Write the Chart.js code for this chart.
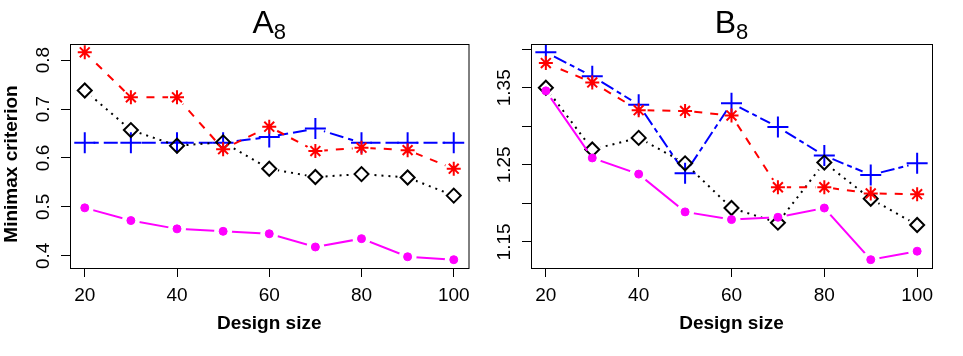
<!DOCTYPE html>
<html>
<head>
<meta charset="utf-8">
<script src="https://cdn.jsdelivr.net/npm/chart.js@4.4.1/dist/chart.umd.min.js"></script>
<style>
  html, body { margin: 0; padding: 0; background: #fff; }
  #wrap { position: relative; width: 963px; height: 356px; overflow: hidden; }
  canvas { position: absolute; top: 0; }
</style>
</head>
<body>
<div id="wrap">
  <canvas id="chartA" width="481" height="356" style="left:0"></canvas>
  <canvas id="chartB" width="482" height="356" style="left:481px"></canvas>
</div>
<script>
const designSize = [20, 30, 40, 50, 60, 70, 80, 90, 100];
const xTicks = [20, 40, 60, 80, 100];

// A8 panel
const a8Plus    = [0.631, 0.631, 0.631, 0.631, 0.643, 0.660, 0.631, 0.631, 0.631];
const a8Diamond = [0.738, 0.657, 0.625, 0.632, 0.578, 0.561, 0.567, 0.560, 0.523];
const a8Star    = [0.816, 0.724, 0.724, 0.618, 0.664, 0.614, 0.621, 0.616, 0.578];
const a8Dot     = [0.498, 0.472, 0.455, 0.450, 0.445, 0.418, 0.435, 0.398, 0.392];
const a8YTicks  = [0.4, 0.5, 0.6, 0.7, 0.8];
const a8YLabels = ['0.4', '0.5', '0.6', '0.7', '0.8'];

// B8 panel
const b8Plus    = [1.396, 1.365, 1.328, 1.239, 1.330, 1.299, 1.262, 1.237, 1.252];
const b8Diamond = [1.350, 1.270, 1.285, 1.252, 1.194, 1.175, 1.253, 1.206, 1.172];
const b8Star    = [1.382, 1.357, 1.321, 1.320, 1.314, 1.221, 1.221, 1.213, 1.212];
const b8Dot     = [1.346, 1.259, 1.238, 1.189, 1.179, 1.182, 1.194, 1.127, 1.138];
const b8YTicks  = [1.15, 1.20, 1.25, 1.30, 1.35, 1.40];
const b8YLabels = ['1.15', '', '1.25', '', '1.35', ''];

Chart.defaults.font.family = '"Liberation Sans", Arial, sans-serif';
Chart.defaults.color = '#000';

// leave a gap round each point like R's type = "b"
const gapPlugin = {
  id: 'gaps',
  beforeDatasetDraw(chart, args) {
    const ds = chart.data.datasets[args.index];
    if (!ds.gap) return;
    const ctx = chart.ctx;
    const xs = chart.scales.x, ys = chart.scales.y;
    ctx.save();
    ctx.beginPath();
    ctx.rect(0, 0, chart.width, chart.height);
    ds.data.forEach(p => {
      const px = xs.getPixelForValue(p.x), py = ys.getPixelForValue(p.y);
      ctx.moveTo(px + ds.gap, py);
      ctx.arc(px, py, ds.gap, 0, Math.PI * 2);
    });
    ctx.clip('evenodd');
  },
  afterDatasetDraw(chart, args) {
    if (chart.data.datasets[args.index].gap) chart.ctx.restore();
  }
};

// box, rotated y labels and titles
const framePlugin = {
  id: 'frame',
  afterDraw(chart, args, opts) {
    const ctx = chart.ctx, a = chart.chartArea;
    ctx.save();
    ctx.strokeStyle = '#000';
    ctx.lineWidth = 1;
    ctx.strokeRect(a.left + 0.5, a.top + 0.5, a.right - a.left, a.bottom - a.top);

    ctx.fillStyle = '#000';
    ctx.font = '19px "Liberation Sans"';
    ctx.textAlign = 'center';
    ctx.textBaseline = 'alphabetic';
    const ys = chart.scales.y;
    opts.yTicks.forEach((v, i) => {
      const lab = opts.yLabels[i];
      if (!lab) return;
      ctx.save();
      ctx.translate(opts.labelX, ys.getPixelForValue(v));
      ctx.rotate(-Math.PI / 2);
      ctx.fillText(lab, 0, 0);
      ctx.restore();
    });

    if (opts.yTitle) {
      ctx.save();
      ctx.font = 'bold 19px "Liberation Sans"';
      ctx.translate(17, 164);
      ctx.rotate(-Math.PI / 2);
      ctx.fillText(opts.yTitle, 0, 0);
      ctx.restore();
    }

    // main title with subscript
    const cx = (a.left + a.right) / 2;
    ctx.font = '32px "Liberation Sans"';
    const w1 = ctx.measureText(opts.title).width;
    ctx.font = '22px "Liberation Sans"';
    const w2 = ctx.measureText(opts.sub).width;
    const x0 = cx - (w1 + w2) / 2;
    ctx.textAlign = 'left';
    ctx.font = '32px "Liberation Sans"';
    ctx.fillText(opts.title, x0, 33);
    ctx.font = '22px "Liberation Sans"';
    ctx.fillText(opts.sub, x0 + w1, 39);
    ctx.restore();
  }
};

function makePanel(id, p) {
  const datasets = [];
  const n = p.series.length;
  p.series.forEach((s, i) => {
    const pts = designSize.map((x, j) => ({x: x, y: s.values[j]}));
    datasets.push({
      data: pts,
      showLine: true,
      borderColor: s.color,
      borderWidth: 2,
      borderDash: s.dash,
      pointRadius: 0,
      gap: 9,
      order: 2 * (n - i) + 1
    });
    datasets.push({
      data: pts,
      showLine: false,
      pointStyle: s.style,
      pointRadius: s.radius,
      pointBorderWidth: s.bw,
      pointBorderColor: s.color,
      pointBackgroundColor: s.fill,
      order: 2 * (n - i)
    });
  });

  const tickGrid = { drawOnChartArea: false, drawTicks: true, tickLength: 9, color: '#000', lineWidth: 1 };

  return new Chart(document.getElementById(id), {
    type: 'scatter',
    data: { datasets: datasets },
    options: {
      responsive: false,
      animation: false,
      events: [],
      layout: { padding: { left: 0, top: 44, right: p.padRight, bottom: 0 } },
      plugins: {
        legend: { display: false },
        tooltip: { enabled: false },
        frame: { yTicks: p.yTicks, yLabels: p.yLabels, labelX: p.labelX, yTitle: p.yTitle, title: p.title, sub: p.sub }
      },
      scales: {
        x: {
          type: 'linear',
          min: 16.8,
          max: 103.2,
          afterBuildTicks: s => { s.ticks = xTicks.map(v => ({value: v})); },
          afterFit: s => { s.height = 88; },
          grid: tickGrid,
          border: { display: false },
          ticks: { color: '#000', font: { size: 19 }, padding: 7, maxRotation: 0, autoSkip: false },
          title: { display: true, text: 'Design size', color: '#000', font: { size: 19, weight: 'bold' }, padding: { top: 0, bottom: 21 } }
        },
        y: {
          type: 'linear',
          min: p.yMin,
          max: p.yMax,
          afterBuildTicks: s => { s.ticks = p.yTicks.map(v => ({value: v})); },
          afterFit: s => { s.width = p.yWidth; },
          grid: tickGrid,
          border: { display: false },
          ticks: { display: false }
        }
      }
    },
    plugins: [gapPlugin, framePlugin]
  });
}

function seriesList(plus, diamond, star, dot, plusDash) {
  // bottom to top
  return [
    { values: plus, color: '#0000FF', dash: plusDash, style: 'cross', radius: 10.5, bw: 2, fill: 'rgba(0,0,0,0)' },
    { values: diamond, color: '#000000', dash: [2, 5], style: 'rectRot', radius: 7, bw: 2, fill: 'rgba(0,0,0,0)' },
    { values: star, color: '#FF0000', dash: [8, 8], style: 'star', radius: 7, bw: 2, fill: 'rgba(0,0,0,0)' },
    { values: dot, color: '#FF00FF', dash: [], style: 'circle', radius: 4, bw: 1, fill: '#FF00FF' }
  ];
}

makePanel('chartA', {
  series: seriesList(a8Plus, a8Diamond, a8Star, a8Dot, [14, 5]),
  yMin: 0.375, yMax: 0.833,
  yTicks: a8YTicks, yLabels: a8YLabels,
  yWidth: 70, padRight: 11, labelX: 49,
  yTitle: 'Minimax criterion',
  title: 'A', sub: '8'
});

makePanel('chartB', {
  series: seriesList(b8Plus, b8Diamond, b8Star, b8Dot, [5, 4, 14, 4]),
  yMin: 1.1162, yMax: 1.4068,
  yTicks: b8YTicks, yLabels: b8YLabels,
  yWidth: 50, padRight: 31, labelX: 29,
  yTitle: '',
  title: 'B', sub: '8'
});
</script>
</body>
</html>
